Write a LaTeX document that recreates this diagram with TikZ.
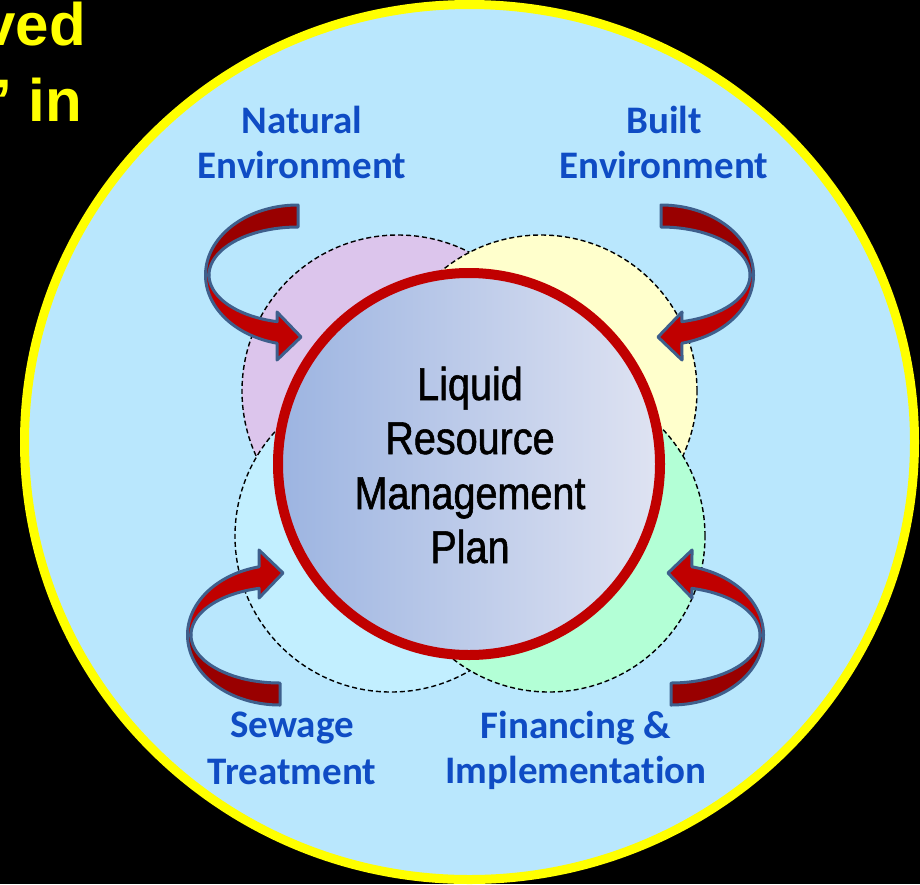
\documentclass[tikz,border=0pt]{standalone}
\usepackage{fontspec}
\setmainfont{Liberation Sans}
\newfontfamily\lblfont{Carlito}[Ligatures=NoCommon]
\newfontfamily\ctrfont{Liberation Sans}[FakeStretch=0.86,FakeBold=1.2]
\newfontfamily\ttlfont{Liberation Sans}
\definecolor{bgblue}{HTML}{B9E7FD}
\definecolor{ringyellow}{HTML}{FFFF00}
\definecolor{cpurple}{HTML}{DCC5EC}
\definecolor{cyellow}{HTML}{FFFFCC}
\definecolor{cblue}{HTML}{C2EFFF}
\definecolor{cgreen}{HTML}{B3FFD6}
\definecolor{ringred}{HTML}{C00000}
\definecolor{shadeL}{HTML}{9CB4E1}
\definecolor{shadeR}{HTML}{DFE3F2}
\definecolor{tailred}{HTML}{990000}
\definecolor{headred}{HTML}{C00000}
\definecolor{arrowline}{HTML}{3E5F8C}
\definecolor{lblblue}{HTML}{0F4CC4}
\tikzset{
  dashcirc/.style={draw=black, line width=1.4pt, dash pattern=on 5pt off 3pt},
  tailband/.style={fill=tailred, draw=arrowline, line width=3pt, line join=round},
  headband/.style={fill=headred, draw=arrowline, line width=3pt, line join=round},
  lbl/.style={font=\lblfont\bfseries\fontsize{39}{47}\selectfont, text=lblblue, inner sep=0pt, anchor=base},
  ctr/.style={font=\ctrfont\fontsize{46}{55}\selectfont, text=black, inner sep=0pt, anchor=base},
  ttl/.style={font=\ttlfont\bfseries\fontsize{60}{72}\selectfont, text=ringyellow, inner sep=0pt, anchor=base east}
}
% #1 cx, #2 cy, #3 sx, #4 sy
\newcommand\ribarrow[4]{%
  \filldraw[tailband] plot[domain=0:90,samples=40] ({#1+(#3)*92.5*cos(270-\x)},{#2+(#4)*70*sin(270-\x)})
     -- plot[domain=180:270,samples=40] ({#1+(#3)*89*cos(\x)},{#2+(#4)*48*sin(\x)}) -- cycle;
  \filldraw[headband] plot[domain=0:76.9,samples=40] ({#1+(#3)*92.5*cos(180-\x)},{#2+(#4)*70*sin(180-\x)})
     -- ({#1+(#3)*(-21)},{#2+(#4)*85}) -- ({#1+(#3)*3},{#2+(#4)*62}) -- ({#1+(#3)*(-21)},{#2+(#4)*37})
     -- plot[domain=103.6:180,samples=40] ({#1+(#3)*89*cos(\x)},{#2+(#4)*48*sin(\x)}) -- cycle;
}
\begin{document}
\begin{tikzpicture}[x=1pt,y=-1pt]
\useasboundingbox (0,0) rectangle (920,884);
\fill[black] (0,0) rectangle (920,884);
\begin{scope}
\clip (0,0) rectangle (920,884);
% title fragments (cut off at the left edge, as in the reference)
\node[ttl] (t1) at (86,45) {ved};
\node[ttl] (t2) at (82,121) {’ in};
% big outer circle
\filldraw[fill=bgblue, draw=ringyellow, line width=9pt] (469.5,442) ellipse [x radius=445pt, y radius=437.5pt];
\end{scope}
% four dashed circles
\filldraw[dashcirc, fill=cpurple] (398,391) circle[radius=156pt];
\filldraw[dashcirc, fill=cyellow] (541,391) circle[radius=156pt];
\filldraw[dashcirc, fill=cblue] (391,536) circle[radius=156pt];
\filldraw[dashcirc, fill=cgreen] (549,536) circle[radius=156pt];
% main circle
\path[draw=ringred, line width=10pt, left color=shadeL, right color=shadeR] (469,464) circle[radius=191pt];
\node[ctr] (c1) at (470,400) {Liquid};
\node[ctr] (c2) at (470,454) {Resource};
\node[ctr] (c3) at (470,509) {Management};
\node[ctr] (c4) at (470,563) {Plan};
% arrows
\ribarrow{298}{275}{1}{1}
\ribarrow{661}{275}{-1}{1}
\ribarrow{280}{635}{1}{-1}
\ribarrow{671}{635}{-1}{-1}
% labels
\node[lbl] (n1) at (302,133) {Natural};
\node[lbl] (n2) at (302,178) {Environment};
\node[lbl] (b1) at (664,133) {Built};
\node[lbl] (b2) at (664,178) {Environment};
\node[lbl] (s1) at (292,737) {Sewage};
\node[lbl] (s2) at (292,784) {Treatment};
\node[lbl] (f1) at (576,738) {Financing \&};
\node[lbl] (f2) at (576,783) {Implementation};
\end{tikzpicture}
\end{document}
